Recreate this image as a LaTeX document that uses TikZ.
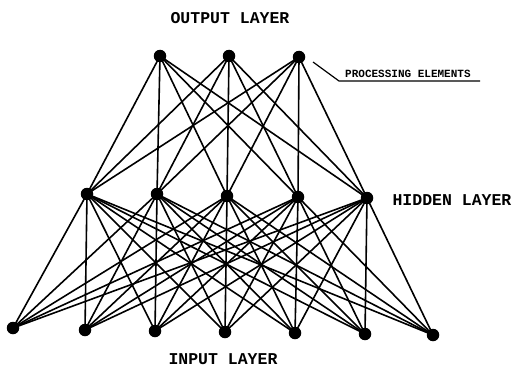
\documentclass[tikz,border=0pt]{standalone}
\usepackage{fontspec}
\newfontfamily\plotfont{Liberation Mono}
\begin{document}
\begin{tikzpicture}[x=1pt,y=-1pt,
  pe/.style={circle,fill=black,inner sep=0pt,minimum size=12.5pt},
  conn/.style={line width=1.6pt},
  lbl/.style={font=\plotfont\bfseries\fontsize{16.5}{18}\selectfont,inner sep=0pt},
  small/.style={font=\plotfont\bfseries\fontsize{11}{12}\selectfont,inner sep=0pt}]
\useasboundingbox (0,0) rectangle (514,369);
% output layer
\node[pe] (o1) at (160,56) {};
\node[pe] (o2) at (229,56) {};
\node[pe] (o3) at (299,57) {};
% hidden layer
\node[pe] (h1) at (87,194) {};
\node[pe] (h2) at (157,194) {};
\node[pe] (h3) at (227,196) {};
\node[pe] (h4) at (298,197) {};
\node[pe] (h5) at (367,198) {};
% input layer
\node[pe] (i1) at (13,328) {};
\node[pe] (i2) at (85,330) {};
\node[pe] (i3) at (155,331) {};
\node[pe] (i4) at (225,332) {};
\node[pe] (i5) at (295,333) {};
\node[pe] (i6) at (365,334) {};
\node[pe] (i7) at (433,335) {};
% connections
\foreach \o in {1,2,3}{\foreach \h in {1,...,5}{\draw[conn] (o\o.center) -- (h\h.center);}}
\foreach \h in {1,...,5}{\foreach \i in {1,...,7}{\draw[conn] (h\h.center) -- (i\i.center);}}
% labels
\node[lbl] (tout) at (230,18) {OUTPUT LAYER};
\node[lbl] (thid) at (452,200) {HIDDEN LAYER};
\node[lbl] (tin) at (223,359) {INPUT LAYER};
\node[small,anchor=south west] (tpe) at (345,78) {PROCESSING ELEMENTS};
\coordinate (pa) at (313,62);
\coordinate (pb) at (339,81);
\coordinate (pc) at (480,81);
\draw[line width=1.2pt] (pa) -- (pb) -- (pc);
\end{tikzpicture}
\end{document}
